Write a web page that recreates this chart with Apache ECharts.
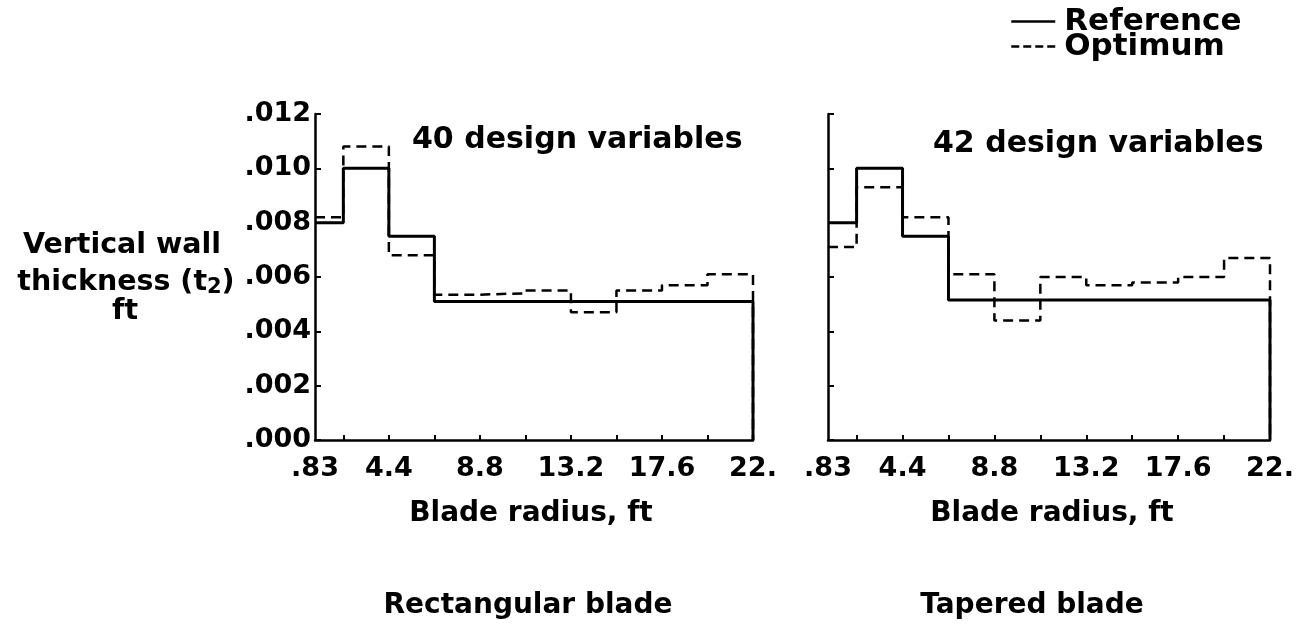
<!DOCTYPE html>
<html>
<head>
<meta charset="utf-8">
<script src="https://cdn.jsdelivr.net/npm/echarts@6/dist/echarts.min.js"></script>
<style>
  html, body { margin: 0; padding: 0; background: #fff; }
  #chart { width: 1312px; height: 630px; }
</style>
</head>
<body>
<div id="chart"></div>
<script>
// segment edges along the blade radius (ft)
const edges = [0.83, 2.2, 4.4, 6.6, 8.8, 11, 13.2, 15.4, 17.6, 19.8, 22];
// wall thickness per segment
const rectReference = [0.0080, 0.0100, 0.0075, 0.0051, 0.0051, 0.0051, 0.0051, 0.0051, 0.0051, 0.0051];
const rectOptimum = [0.0082, 0.0108, 0.0068, 0.00535, 0.0054, 0.0055, 0.0047, 0.0055, 0.0057, 0.0061];
const taperReference = [0.0080, 0.0100, 0.0075, 0.00515, 0.00515, 0.00515, 0.00515, 0.00515, 0.00515, 0.00515];
const taperOptimum = [0.0071, 0.0093, 0.0082, 0.0061, 0.0044, 0.0060, 0.0057, 0.0058, 0.0060, 0.0067];

const xTickValues = [2.2, 4.4, 6.6, 8.8, 11, 13.2, 15.4, 17.6, 19.8];
const xLabelValues = [0.83, 4.4, 8.8, 13.2, 17.6, 22];
const xLabelTexts = [".83", "4.4", "8.8", "13.2", "17.6", "22."];

const FONT = "DejaVu Sans";
const chart = echarts.init(document.getElementById("chart"));

// step line: value of each segment held until the next edge, then drop to 0
const toSteps = (vals) => edges.map((e, i) => [e, i < vals.length ? vals[i] : 0]);

const makeX = (gridIndex) => ({
  type: "value",
  gridIndex,
  min: 0.83,
  max: 22,
  axisLine: { lineStyle: { color: "#000", width: 2.5 } },
  axisTick: {
    inside: true,
    length: 5,
    customValues: xTickValues,
    lineStyle: { color: "#000", width: 2 },
  },
  axisLabel: {
    customValues: xLabelValues,
    margin: 15,
    color: "#000",
    fontFamily: FONT,
    fontWeight: "bold",
    fontSize: 27,
    formatter: (v) => {
      const i = xLabelValues.findIndex((x) => Math.abs(x - v) < 1e-6);
      return i >= 0 ? xLabelTexts[i] : "";
    },
  },
  splitLine: { show: false },
});

const makeY = (gridIndex, showLabels) => ({
  type: "value",
  gridIndex,
  min: 0,
  max: 0.012,
  interval: 0.002,
  axisLine: { show: true, lineStyle: { color: "#000", width: 2.5 } },
  axisTick: { show: true, inside: true, length: 6, lineStyle: { color: "#000", width: 2 } },
  axisLabel: {
    show: showLabels,
    margin: 4,
    padding: [10, 0, 0, 0],
    color: "#000",
    fontFamily: FONT,
    fontWeight: "bold",
    fontSize: 27,
    formatter: (v) => v.toFixed(3).slice(1),
  },
  splitLine: { show: false },
});

const refLine = { color: "#000", width: 3, type: "solid" };
const optLine = { color: "#000", width: 2.5, type: [10, 6] };

const makeSeries = (name, vals, idx, lineStyle) => ({
  name,
  type: "line",
  step: "end",
  xAxisIndex: idx,
  yAxisIndex: idx,
  symbol: "none",
  data: toSteps(vals),
  lineStyle,
  itemStyle: { color: "#000" },
  animation: false,
});

const textStyle = (extra) => Object.assign({
  fill: "#000",
  fontFamily: FONT,
  fontWeight: "bold",
  fontSize: 28,
  textAlign: "center",
  textVerticalAlign: "middle",
}, extra);

const option = {
  backgroundColor: "#fff",
  animation: false,
  grid: [
    { left: 315, right: 559, top: 114, bottom: 190 },
    { left: 828, right: 42, top: 114, bottom: 190 },
  ],
  xAxis: [makeX(0), makeX(1)],
  yAxis: [makeY(0, true), makeY(1, false)],
  legend: {
    orient: "vertical",
    left: 1005,
    top: 1,
    itemWidth: 44,
    itemHeight: 14,
    itemGap: -6,
    itemStyle: { opacity: 0 },
    data: [
      { name: "Reference", lineStyle: { type: "solid", width: 2.5 } },
      { name: "Optimum", lineStyle: { type: [8, 4], width: 2.5 } },
    ],
    textStyle: {
      color: "#000",
      fontFamily: FONT,
      fontWeight: "bold",
      fontSize: 31,
      padding: [0, 0, 0, 4],
    },
    selectedMode: false,
  },
  series: [
    makeSeries("Reference", rectReference, 0, refLine),
    makeSeries("Optimum", rectOptimum, 0, optLine),
    makeSeries("Reference", taperReference, 1, refLine),
    makeSeries("Optimum", taperOptimum, 1, optLine),
  ],
  graphic: [
    { type: "text", x: 412, y: 140, style: textStyle({ text: "40 design variables", textAlign: "left", fontSize: 30 }) },
    { type: "text", x: 933, y: 144, style: textStyle({ text: "42 design variables", textAlign: "left", fontSize: 30 }) },
    { type: "text", x: 531, y: 514, style: textStyle({ text: "Blade radius, ft" }) },
    { type: "text", x: 1052, y: 514, style: textStyle({ text: "Blade radius, ft" }) },
    { type: "text", x: 528, y: 606, style: textStyle({ text: "Rectangular blade" }) },
    { type: "text", x: 1032, y: 606, style: textStyle({ text: "Tapered blade" }) },
    { type: "text", x: 122, y: 246, style: textStyle({ text: "Vertical wall", fontSize: 28.5 }) },
    {
      type: "text", x: 126, y: 283,
      style: textStyle({
        text: "{a|thickness (t}{s|2}{a|)}",
        rich: {
          a: { fontFamily: FONT, fontWeight: "bold", fontSize: 28.5, lineHeight: 30, verticalAlign: "top" },
          s: { fontFamily: FONT, fontWeight: "bold", fontSize: 21, lineHeight: 20, verticalAlign: "bottom", padding: [15, 0, 0, 0] },
        },
      }),
    },
    { type: "text", x: 125, y: 312, style: textStyle({ text: "ft", fontSize: 28.5 }) },
  ],
};

chart.setOption(option);
</script>
</body>
</html>
